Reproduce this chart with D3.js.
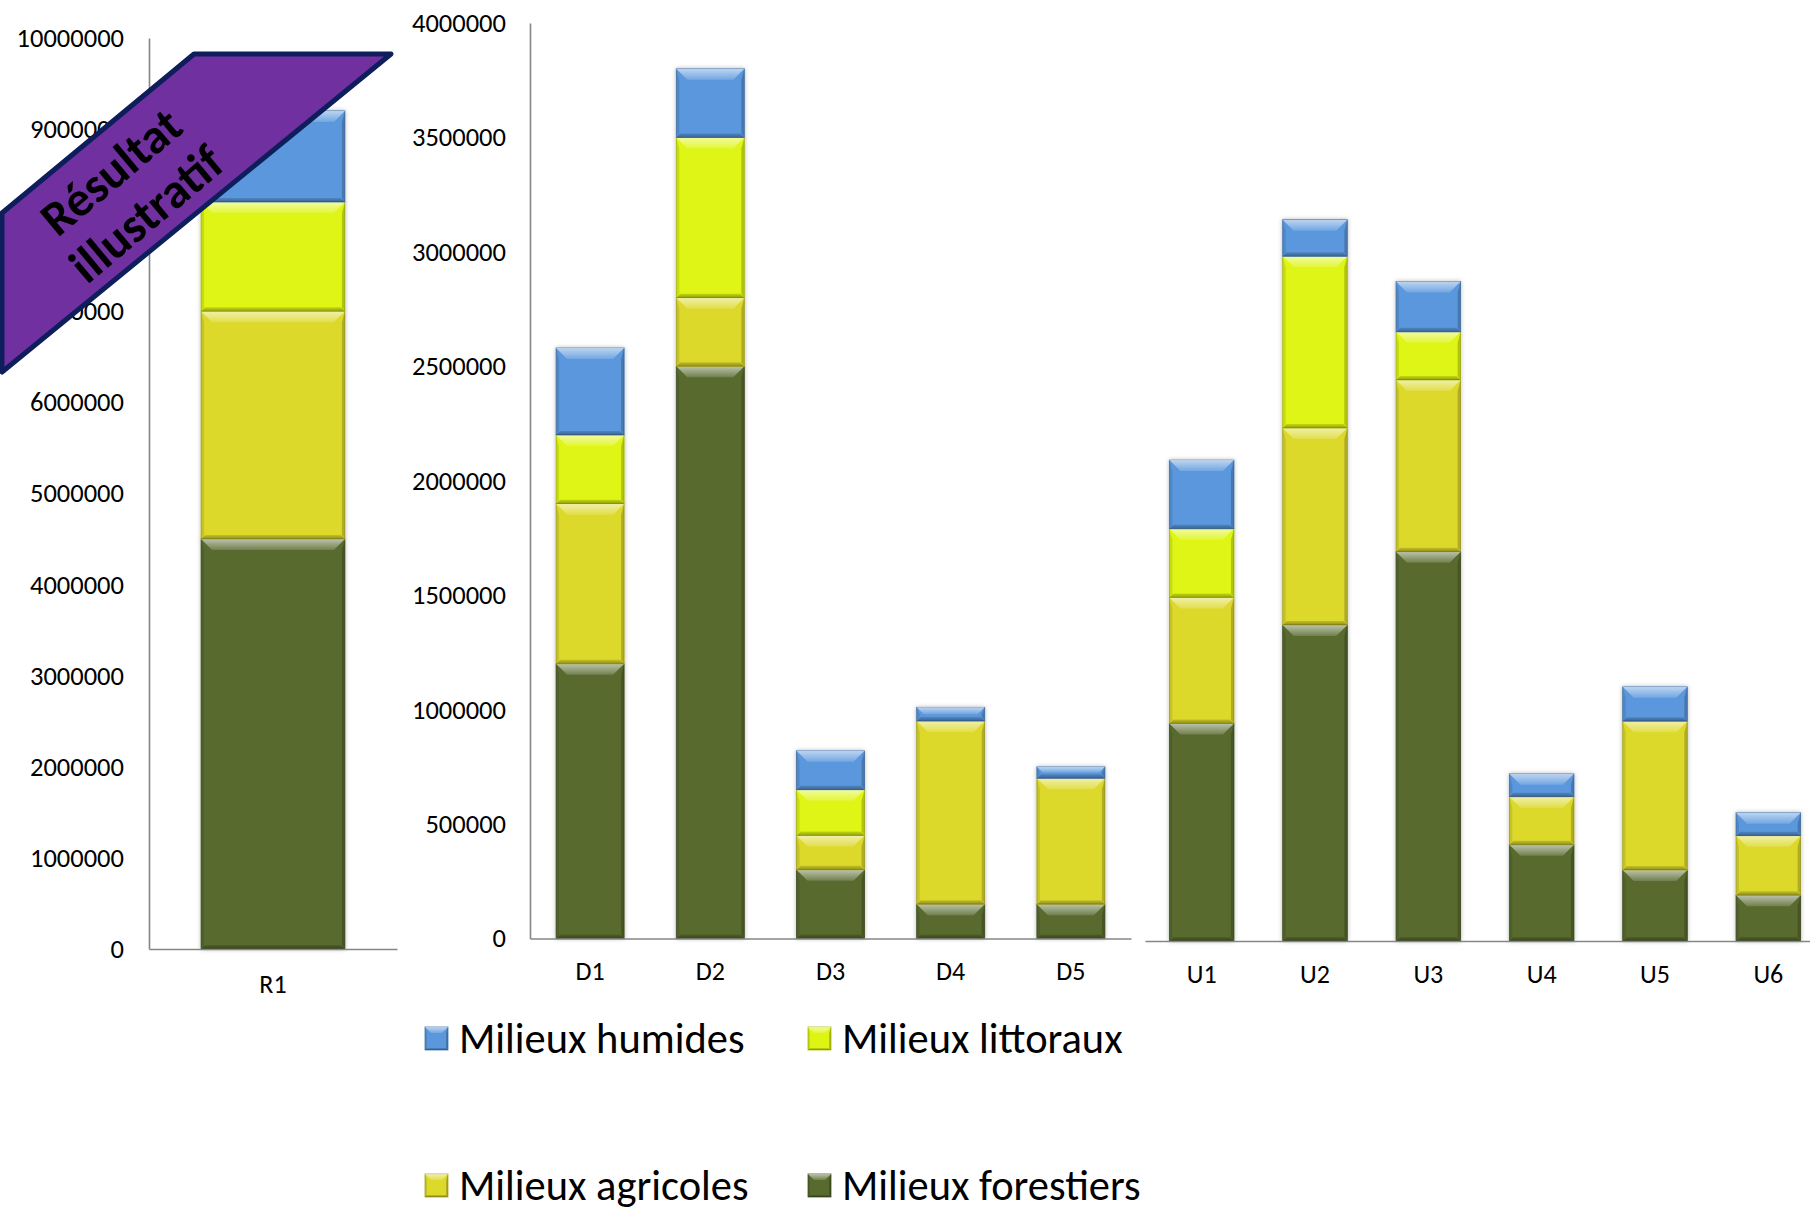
<!DOCTYPE html>
<html>
<head>
<meta charset="utf-8">
<script src="https://cdn.jsdelivr.net/npm/d3@7"></script>
<style>
  html, body { margin: 0; padding: 0; background: #ffffff; }
  svg { display: block; }
  text { font-family: Carlito, Lato, "Noto Sans", sans-serif; }
</style>
</head>
<body>
<div id="chart"></div>
<script>
// ---------------- DATA ----------------
const categories = ["R1", "D1", "D2", "D3", "D4", "D5", "U1", "U2", "U3", "U4", "U5", "U6"];
const forestiers = [4500000, 1200000, 2500000, 300000, 150000, 150000, 950000, 1380000, 1700000, 420000, 310000, 200000];
const agricoles  = [2500000, 700000, 300000, 150000, 800000, 550000, 550000, 860000, 750000, 210000, 650000, 260000];
const littoraux  = [1200000, 300000, 700000, 200000, 0, 0, 300000, 750000, 210000, 0, 0, 0];
const humides    = [1000000, 380000, 300000, 170000, 60000, 50000, 300000, 160000, 220000, 100000, 150000, 100000];

const seriesKeys = ["forestiers", "agricoles", "littoraux", "humides"]; // stack order, bottom to top
const seriesNames = ["Milieux forestiers", "Milieux agricoles", "Milieux littoraux", "Milieux humides"];
const legendOrder = ["humides", "littoraux", "agricoles", "forestiers"];
const ticksR = [0, 1000000, 2000000, 3000000, 4000000, 5000000, 6000000, 7000000, 8000000, 9000000, 10000000];
const ticksD = [0, 500000, 1000000, 1500000, 2000000, 2500000, 3000000, 3500000, 4000000];
const watermarkLines = ["Résultat", "illustratif"];

// ---------------- STYLE ----------------
const W = 1810, H = 1211;
const colors = { humides: "#5A97DD", littoraux: "#DEF514", agricoles: "#DCD92B", forestiers: "#586A2E" };
const axisColor = "#868686";

const rows = categories.map((c, i) => ({
  cat: c, group: c[0],
  forestiers: forestiers[i], agricoles: agricoles[i], littoraux: littoraux[i], humides: humides[i]
}));
const stack = d3.stack().keys(seriesKeys);

const svg = d3.select("#chart").append("svg").attr("width", W).attr("height", H);
const defs = svg.append("defs");
const tg = defs.append("linearGradient").attr("id", "topBevel").attr("x1", 0).attr("y1", 0).attr("x2", 0).attr("y2", 1);
tg.append("stop").attr("offset", 0).attr("stop-color", "#fff").attr("stop-opacity", 0.6);
tg.append("stop").attr("offset", 1).attr("stop-color", "#fff").attr("stop-opacity", 0.15);
const bg = defs.append("linearGradient").attr("id", "botBevel").attr("x1", 0).attr("y1", 0).attr("x2", 0).attr("y2", 1);
bg.append("stop").attr("offset", 0).attr("stop-color", "#000").attr("stop-opacity", 0.12);
bg.append("stop").attr("offset", 1).attr("stop-color", "#000").attr("stop-opacity", 0.35);
const f = defs.append("filter").attr("id", "shadow").attr("x", "-20%").attr("y", "-20%").attr("width", "140%").attr("height", "140%");
f.append("feDropShadow").attr("dx", 0).attr("dy", 0).attr("stdDeviation", 2.2).attr("flood-color", "#000").attr("flood-opacity", 0.28);

function bevelRect(g, x, y, w, h, color, bt, bb, bs) {
  if (h <= 0.5) return;
  const t = Math.min(bt, h / 2), b = Math.min(bb, h / 2), s = Math.min(bs, w / 2);
  g.append("rect").attr("x", x).attr("y", y).attr("width", w).attr("height", h)
    .attr("fill", color).attr("stroke", d3.color(color).darker(0.7)).attr("stroke-width", 0.8);
  g.append("polygon").attr("points", [[x, y], [x + s, y + t], [x + s, y + h - b], [x, y + h]].join(" "))
    .attr("fill", "#000").attr("fill-opacity", 0.1);
  g.append("polygon").attr("points", [[x + w, y], [x + w - s, y + t], [x + w - s, y + h - b], [x + w, y + h]].join(" "))
    .attr("fill", "#000").attr("fill-opacity", 0.2);
  g.append("polygon").attr("points", [[x, y], [x + w, y], [x + w - t, y + t], [x + t, y + t]].join(" "))
    .attr("fill", "url(#topBevel)");
  g.append("polygon").attr("points", [[x, y + h], [x + w, y + h], [x + w - b, y + h - b], [x + b, y + h - b]].join(" "))
    .attr("fill", "url(#botBevel)");
}

function drawPanel(group, x, y, showYAxis, ticks, yPad, xPad, pad) {
  const data = rows.filter(r => r.group === group);
  x.domain(data.map(d => d.cat)).paddingInner(pad).paddingOuter(pad / 2);
  const g = svg.append("g");
  const series = stack(data);
  const barsG = g.append("g");
  data.forEach((d, i) => {
    const bg2 = barsG.append("g").attr("filter", "url(#shadow)");
    series.forEach(s => {
      const p = s[i];
      const y0 = y(p[0]), y1 = y(p[1]);
      bevelRect(bg2, x(d.cat), y1, x.bandwidth(), y0 - y1, colors[s.key], 11, 4, 3);
    });
  });
  if (showYAxis) {
    const ya = g.append("g").attr("transform", `translate(${x.range()[0]},0)`)
      .call(d3.axisLeft(y).tickValues(ticks).tickFormat(d3.format("d")).tickSize(0).tickPadding(yPad));
    ya.select(".domain").attr("stroke", axisColor).attr("stroke-width", 1.6);
    ya.selectAll("text").attr("font-size", 26.5).attr("fill", "#000");
  }
  const xa = g.append("g").attr("transform", `translate(0,${y(0)})`)
    .call(d3.axisBottom(x).tickSize(0).tickPadding(xPad));
  xa.select(".domain").attr("stroke", axisColor).attr("stroke-width", 1.6);
  xa.selectAll("text").attr("font-size", 26).attr("fill", "#000");
}

// Left panel: R
const yR = d3.scaleLinear().domain([0, 10000000]).range([949, 38]);
const xR = d3.scaleBand().range([149, 397]);
drawPanel("R", xR, yR, true, ticksR, 25, 26, 0.42);

// Middle panel: D
const yD = d3.scaleLinear().domain([0, 4000000]).range([938.5, 23]);
const xD = d3.scaleBand().range([530, 1131]);
drawPanel("D", xD, yD, true, ticksD, 24, 23, 0.434);

// Right panel: U (hidden value axis)
const yU = d3.scaleLinear().domain([0, 4000000]).range([941, 25]);
const xU = d3.scaleBand().range([1145, 1825]);
drawPanel("U", xU, yU, false, ticksD, 24, 24, 0.43);

// ---------------- LEGEND ----------------
const legendPos = [[425, 1027], [808, 1027], [425, 1174], [808, 1174]];
const lg = svg.append("g");
legendOrder.forEach((k, i) => {
  const [lx, ly] = legendPos[i];
  const item = lg.append("g");
  bevelRect(item, lx, ly, 23, 23, colors[k], 6, 2, 2);
  item.append("text").attr("x", lx + 34).attr("y", ly + 26).attr("font-size", 42.5).attr("fill", "#000")
    .text(seriesNames[seriesKeys.indexOf(k)]);
});

// ---------------- WATERMARK ----------------
const wm = svg.append("g");
wm.append("polygon").attr("points", [[194, 54], [391, 54], [2, 372], [2, 213]].join(" "))
  .attr("fill", "#7030A0").attr("stroke", "#0E1D5C").attr("stroke-width", 5).attr("stroke-linejoin", "round");
const wt = wm.append("g").attr("transform", "translate(128,192) rotate(-40)");
watermarkLines.forEach((t, i) => {
  wt.append("text").attr("x", 0).attr("y", (i === 0 ? -27 : 28)).attr("text-anchor", "middle")
    .attr("dominant-baseline", "central").attr("font-size", 49).attr("font-weight", "bold").attr("fill", "#000").text(t);
});
</script>
</body>
</html>
